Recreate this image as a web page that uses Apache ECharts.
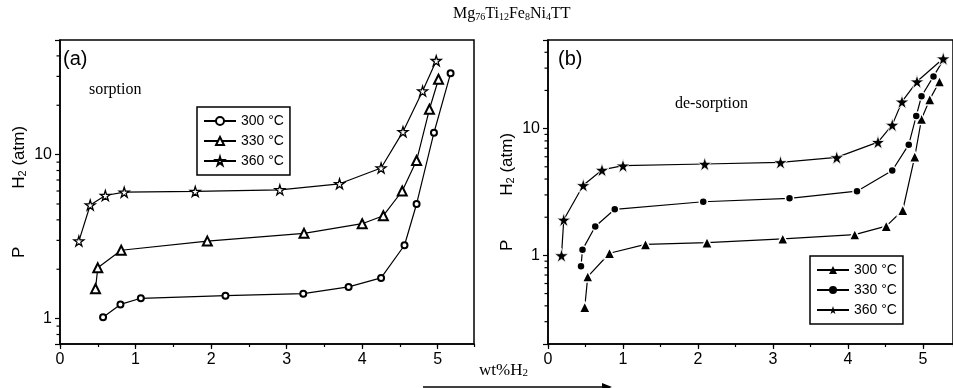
<!DOCTYPE html>
<html>
<head>
<meta charset="utf-8">
<script src="https://cdn.jsdelivr.net/npm/echarts@6/dist/echarts.min.js"></script>
<style>
html,body{margin:0;padding:0;background:#fff;}
#chart{width:953px;height:388px;}
</style>
</head>
<body>
<div id="chart"></div>
<script>
// ---- Data ----
const seriesLabels = ['300 °C', '330 °C', '360 °C'];

// (a) sorption
const xS300 = [0.57, 0.80, 1.07, 2.19, 3.22, 3.82, 4.25, 4.56, 4.72, 4.95, 5.17];
const yS300 = [1.02, 1.22, 1.33, 1.38, 1.42, 1.56, 1.77, 2.8, 5.0, 13.6, 31.3];
const xS330 = [0.47, 0.50, 0.81, 1.95, 3.23, 4.00, 4.28, 4.53, 4.72, 4.89, 5.01];
const yS330 = [1.52, 2.04, 2.61, 2.97, 3.31, 3.79, 4.24, 6.0, 9.2, 18.9, 28.8];
const xS360 = [0.25, 0.40, 0.60, 0.85, 1.79, 2.91, 3.70, 4.25, 4.54, 4.80, 4.98];
const yS360 = [2.97, 4.93, 5.63, 5.9, 5.96, 6.1, 6.64, 8.28, 13.8, 24.4, 37.4];

// (b) de-sorption
const xD300 = [0.49, 0.53, 0.82, 1.30, 2.12, 3.13, 4.09, 4.51, 4.73, 4.89, 4.98, 5.09, 5.22];
const yD300 = [0.39, 0.68, 1.04, 1.22, 1.26, 1.35, 1.46, 1.70, 2.27, 6.0, 11.9, 17.0, 23.5];
const xD330 = [0.44, 0.46, 0.63, 0.89, 2.07, 3.22, 4.12, 4.59, 4.81, 4.91, 4.98, 5.14, 5.27];
const yD330 = [0.82, 1.11, 1.69, 2.31, 2.65, 2.82, 3.21, 4.67, 7.47, 12.6, 18.0, 25.8, 34.7];
const xD360 = [0.18, 0.21, 0.47, 0.72, 1.00, 2.09, 3.10, 3.85, 4.40, 4.59, 4.72, 4.92, 5.27];
const yD360 = [1.0, 1.91, 3.57, 4.72, 5.1, 5.26, 5.42, 5.93, 7.83, 10.7, 16.3, 23.5, 35.7];

// minor tick values of the log axes
const yMinorTicksA = [0.8, 0.9, 2, 3, 4, 5, 6, 7, 8, 9, 20, 30, 40];
const yMinorTicksB = [0.3, 0.4, 0.5, 0.6, 0.7, 0.8, 0.9, 2, 3, 4, 5, 6, 7, 8, 9, 20, 30, 40];

// ---- Chart ----
const pair = (xs, ys) => xs.map((x, i) => [x, ys[i]]);
const STAR = 'path://M50,0 L61,35 L98,35 L68,57 L79,91 L50,70 L21,91 L32,57 L2,35 L39,35 Z';
const SANS = 'Liberation Sans, Arial, sans-serif';
const SERIF = 'Liberation Serif, Times New Roman, serif';
const black = '#000';

const isDecade = v => Math.abs(Math.log10(v) - Math.round(Math.log10(v))) < 1e-6;

function xAxes(gridIndex, max) {
  return [
    {
      type: 'value', gridIndex, min: 0, max, interval: 1, position: 'bottom',
      axisLine: { show: true, lineStyle: { color: black, width: 1.5 } },
      axisTick: { show: true, length: 5, lineStyle: { color: black, width: 1.2 } },
      axisLabel: { show: true, margin: 8, fontSize: 16, fontFamily: SANS, color: black, showMaxLabel: false,
                   formatter: v => (Math.abs(v - Math.round(v)) < 1e-9 ? String(Math.round(v)) : '') },
      splitLine: { show: false }
    },
    {
      type: 'value', gridIndex, min: 0, max, interval: 0.5, position: 'bottom',
      axisLine: { show: false },
      axisTick: { show: true, length: 3, lineStyle: { color: black, width: 1.2 } },
      axisLabel: { show: false },
      splitLine: { show: false }
    }
  ];
}

function yAxis(gridIndex, min, gap) {
  return {
    type: 'log', logBase: 10, gridIndex, min, max: 50, position: 'left',
    axisLine: { show: true, lineStyle: { color: black, width: 1.5 } },
    axisTick: { show: true, length: 5, lineStyle: { color: black, width: 1.2 } },
    axisLabel: { margin: 8, fontSize: 16, fontFamily: SANS, color: black,
                 formatter: v => (isDecade(v) ? String(Math.round(v)) : '') },
    splitLine: { show: false },
    name: '{p|P}{g|}{h|H}{s|2}{h| (atm)}',
    nameLocation: 'middle', nameRotate: 90, nameGap: 32,
    nameTextStyle: {
      rich: {
        p: { fontSize: 17, fontFamily: SANS, color: black, lineHeight: 20, verticalAlign: 'bottom' },
        g: { width: gap },
        h: { fontSize: 17, fontFamily: SANS, color: black, lineHeight: 20, verticalAlign: 'bottom' },
        s: { fontSize: 11, fontFamily: SANS, color: black, lineHeight: 10, verticalAlign: 'bottom' }
      }
    }
  };
}

function mkSeries(name, data, xi, yi, symbol, size, itemStyle) {
  return {
    type: 'line', name, data, xAxisIndex: xi, yAxisIndex: yi,
    symbol, symbolSize: size, showAllSymbol: true,
    lineStyle: { color: black, width: 1.2 },
    itemStyle: Object.assign({ color: black }, itemStyle || {}),
    emphasis: { disabled: true },
    z: 3
  };
}

// minor ticks of the log y axes, placed through the axis scale
function minorTickSeries(values, xi, yi) {
  return {
    type: 'custom', xAxisIndex: xi, yAxisIndex: yi, clip: false, silent: true,
    data: values.map(v => [0, v]),
    renderItem: (params, api) => {
      const p = api.coord([api.value(0), api.value(1)]);
      return { type: 'line', shape: { x1: p[0] - 3.5, y1: p[1], x2: p[0], y2: p[1] },
               style: { stroke: black, lineWidth: 1.2 } };
    },
    z: 2
  };
}

const legendLabels = { a300: seriesLabels[0], a330: seriesLabels[1], a360: seriesLabels[2],
                       b300: seriesLabels[0], b330: seriesLabels[1], b360: seriesLabels[2] };

function legend(left, top, names, extra) {
  return Object.assign({
    orient: 'vertical', left, top, data: names, selectedMode: false,
    formatter: n => legendLabels[n],
    itemWidth: 32, itemHeight: 10, itemGap: 6,
    padding: [7, 6, 7, 6],
    borderColor: black, borderWidth: 1.5,
    textStyle: { fontSize: 14, fontFamily: SANS, color: black, lineHeight: 14 }
  }, extra || {});
}

const sub = { fontSize: 10, fontFamily: SERIF, color: black, lineHeight: 10, verticalAlign: 'bottom' };
const main16 = { fontSize: 16, fontFamily: SERIF, color: black, lineHeight: 20, verticalAlign: 'bottom' };
const halo = { borderColor: '#fff', borderWidth: 1.5 };

const option = {
  animation: false,
  backgroundColor: '#fff',
  grid: [
    { left: 60, top: 40, width: 414, height: 304, show: true, borderColor: black, borderWidth: 1.5, containLabel: false },
    { left: 548, top: 40, width: 407, height: 304, show: true, borderColor: black, borderWidth: 1.5, containLabel: false }
  ],
  xAxis: [...xAxes(0, 5.48), ...xAxes(1, 5.4)],
  yAxis: [yAxis(0, 0.7, 58), yAxis(1, 0.2, 44)],
  legend: [
    legend(197, 107, ['a300', 'a330', 'a360']),
    legend(810, 256, ['b300', 'b330', 'b360'], { itemStyle: { borderWidth: 0 } })
  ],
  series: [
    mkSeries('a300', pair(xS300, yS300), 0, 0, 'emptyCircle', 6, { borderWidth: 1.1 }),
    mkSeries('a330', pair(xS330, yS330), 0, 0, 'emptyTriangle', 9, { borderWidth: 1.1 }),
    mkSeries('a360', pair(xS360, yS360), 0, 0, STAR, 10, { color: '#fff', borderColor: black, borderWidth: 1.3 }),
    mkSeries('b300', pair(xD300, yD300), 2, 1, 'triangle', 11, halo),
    mkSeries('b330', pair(xD330, yD330), 2, 1, 'circle', 8, halo),
    mkSeries('b360', pair(xD360, yD360), 2, 1, STAR, 14, { borderColor: '#fff', borderWidth: 0.8 }),
    minorTickSeries(yMinorTicksA, 0, 0),
    minorTickSeries(yMinorTicksB, 2, 1)
  ],
  graphic: [
    { type: 'text', left: 453, top: 6, style: {
        text: '{m|Mg}{s|76}{m|Ti}{s|12}{m|Fe}{s|8}{m|Ni}{s|4}{m|TT}',
        rich: { m: main16, s: sub } } },
    { type: 'text', left: 63, top: 49, style: { text: '(a)', fontSize: 20, fontFamily: SANS, fill: black } },
    { type: 'text', left: 89, top: 82, style: { text: 'sorption', fontSize: 16, fontFamily: SERIF, fill: black } },
    { type: 'text', left: 558, top: 49, style: { text: '(b)', fontSize: 20, fontFamily: SANS, fill: black } },
    { type: 'text', left: 675, top: 96, style: { text: 'de-sorption', fontSize: 16, fontFamily: SERIF, fill: black } },
    { type: 'text', left: 479, top: 362, style: {
        text: '{m|wt%H}{s|2}', rich: { m: { ...main16, fontSize: 17 }, s: { ...sub, fontSize: 11 } } } },
    { type: 'line', shape: { x1: 423, y1: 387, x2: 606, y2: 387 }, style: { stroke: black, lineWidth: 1.5 } },
    { type: 'polygon', shape: { points: [[602, 383], [612, 387], [602, 391]] }, style: { fill: black } }
  ]
};

const chart = echarts.init(document.getElementById('chart'), null, { renderer: 'canvas' });
chart.setOption(option);
</script>
</body>
</html>
